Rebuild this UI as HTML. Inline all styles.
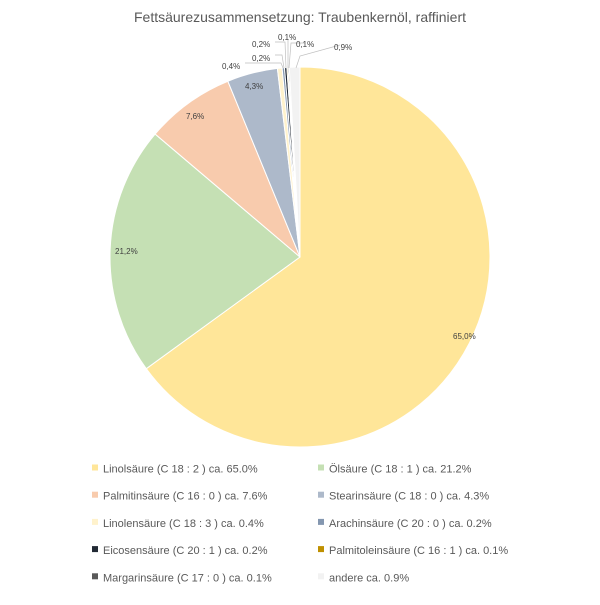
<!DOCTYPE html>
<html><head><meta charset="utf-8"><style>
body{margin:0;background:#fff;width:600px;height:600px;overflow:hidden;font-family:"Liberation Sans",sans-serif}
</style></head><body>
<svg id="s" width="600" height="600" xmlns="http://www.w3.org/2000/svg" font-family="Liberation Sans, sans-serif">
<text x="300" y="22" text-anchor="middle" font-size="14" fill="#595959">Fettsäurezusammensetzung: Traubenkernöl, raffiniert</text>
<g id="pie"></g>
<g stroke="#bfbfbf" stroke-width="0.7" fill="none">
<polyline points="245,63 281,63 283,68"/>
<polyline points="275,55 282,55 284,68"/>
<polyline points="275,42 285,42 286,68"/>
<polyline points="288,40 288,68"/>
<polyline points="305,43 291,43 289,68"/>
<polyline points="340,45 300,56 296,68"/>
</g>
<g font-size="8" fill="#404040">
<text x="453" y="339">65,0%</text>
<text x="115" y="254">21,2%</text>
<text x="186" y="119">7,6%</text>
<text x="245" y="89">4,3%</text>
<text x="222" y="69">0,4%</text>
<text x="252" y="61">0,2%</text>
<text x="252" y="47">0,2%</text>
<text x="278" y="40">0,1%</text>
<text x="296" y="47">0,1%</text>
<text x="334" y="50">0,9%</text>
</g>
<g id="leg" font-size="11" fill="#595959"></g>
</svg>
<script>
var d=[[65.0,"#FFE699","Linolsäure (C 18 : 2 ) ca. 65.0%"],[21.2,"#C5E0B4","Ölsäure (C 18 : 1 ) ca. 21.2%"],[7.6,"#F8CBAD","Palmitinsäure (C 16 : 0 ) ca. 7.6%"],[4.3,"#ADB9CA","Stearinsäure (C 18 : 0 ) ca. 4.3%"],[0.4,"#FFF2CC","Linolensäure (C 18 : 3 ) ca. 0.4%"],[0.2,"#8497B0","Arachinsäure (C 20 : 0 ) ca. 0.2%"],[0.2,"#222A35","Eicosensäure (C 20 : 1 ) ca. 0.2%"],[0.1,"#BF9000","Palmitoleinsäure (C 16 : 1 ) ca. 0.1%"],[0.1,"#595959","Margarinsäure (C 17 : 0 ) ca. 0.1%"],[0.9,"#F2F2F2","andere ca. 0.9%"]];
var NS="http://www.w3.org/2000/svg",cx=300,cy=257,r=190,a=0,p=document.getElementById("pie"),L=document.getElementById("leg");
d.forEach(function(e,i){var a2=a+e[0]/100*2*Math.PI;
function pt(t){return [cx+r*Math.sin(t),cy-r*Math.cos(t)];}
var s=pt(a),t=pt(a2),el=document.createElementNS(NS,"path");
el.setAttribute("d","M"+cx+","+cy+"L"+s[0]+","+s[1]+"A"+r+","+r+" 0 "+(a2-a>Math.PI?1:0)+" 1 "+t[0]+","+t[1]+"Z");
el.setAttribute("fill",e[1]);el.setAttribute("stroke","#fff");el.setAttribute("stroke-width","1");p.appendChild(el);a=a2;
var col=i%2,row=Math.floor(i/2),x=col?321:95,y=469+row*27.2;
var rc=document.createElementNS(NS,"rect");rc.setAttribute("x",x-3);rc.setAttribute("y",y-4.5);rc.setAttribute("width",6);rc.setAttribute("height",6);rc.setAttribute("fill",e[1]);L.appendChild(rc);
var tx=document.createElementNS(NS,"text");tx.setAttribute("x",x+8);tx.setAttribute("y",y+3.5);tx.textContent=e[2];L.appendChild(tx);});
</script>
</body></html>
